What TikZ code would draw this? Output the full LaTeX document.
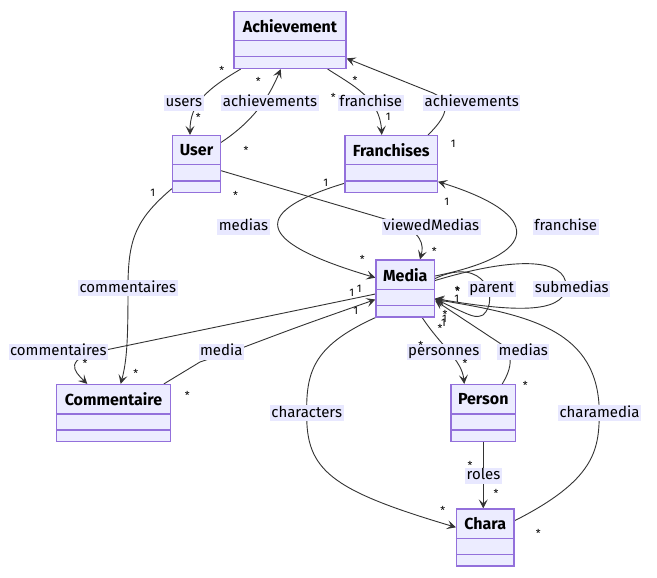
\documentclass[tikz,border=0pt]{standalone}
\usepackage{fontspec}
\setmainfont{Fira Sans}
\usetikzlibrary{arrows.meta,calc,backgrounds}
\definecolor{boxfill}{HTML}{ECECFF}
\definecolor{boxline}{HTML}{9370DB}
\definecolor{edgecol}{HTML}{333333}
\definecolor{lblfill}{HTML}{E8E8FF}
\tikzset{
  classbox/.style={draw=boxline, fill=boxfill, line width=1.2pt, inner sep=0pt, minimum height=57pt},
  classtitle/.style={font=\fontsize{16}{16}\selectfont\bfseries, text=black, inner sep=0pt},
  divider/.style={draw=boxline, line width=1.2pt},
  rel/.style={draw=edgecol, line width=0.9pt},
  relarrow/.style={rel, -{Stealth[length=9pt,width=9pt,inset=4pt]}},
  elabel/.style={fill=lblfill, inner xsep=1.5pt, inner ysep=0.8pt, font=\fontsize{15}{15}\selectfont, text=black, text height=11pt, text depth=3.5pt},
  card/.style={font=\fontsize{11}{11}\selectfont, text=black, inner sep=0pt},
  star/.style={card, yshift=-2.5pt},
}
\newcommand{\umlclass}[5]{%
  \node[classbox, minimum width=#4pt] (#1) at (#2,#3) {};
  \draw[divider] ([yshift=-30pt]#1.north west) -- ([yshift=-30pt]#1.north east);
  \draw[divider] ([yshift=-46pt]#1.north west) -- ([yshift=-46pt]#1.north east);
  \node[classtitle] (#1-title) at ([yshift=-15.5pt]#1.north) {#5};
}
\begin{document}
\begin{tikzpicture}[x=1pt,y=-1pt]
\useasboundingbox (0,0) rectangle (657,578);
% classes
\umlclass{ach}{290}{40}{112}{Achievement}
\umlclass{user}{196.5}{164}{48}{User}
\umlclass{fr}{391.25}{164}{92.5}{Franchises}
\umlclass{media}{405.25}{288.5}{58.5}{Media}
\umlclass{comm}{113.5}{413}{114}{Commentaire}
\umlclass{person}{483.25}{413}{64.5}{Person}
\umlclass{chara}{485.25}{537.5}{57.5}{Chara}
% edge labels
\node[elabel] (l-users) at (183.8,102.7) {users};
\node[elabel] (l-achu) at (270,102.7) {achievements};
\node[elabel] (l-franch) at (370.8,102.7) {franchise};
\node[elabel] (l-achf) at (471.7,102.7) {achievements};
\node[elabel] (l-medias) at (243.5,226.7) {medias};
\node[elabel] (l-viewed) at (431.3,226.7) {viewedMedias};
\node[elabel] (l-franm) at (565.8,226.7) {franchise};
\node[elabel] (l-commu) at (127.8,288.3) {commentaires};
\node[elabel] (l-parent) at (491.7,289) {parent};
\node[elabel] (l-sub) at (571.7,289) {submedias};
\node[elabel] (l-commm) at (58.3,351.7) {commentaires};
\node[elabel] (l-media) at (221.3,351.7) {media};
\node[elabel] (l-pers) at (443.7,351.7) {personnes};
\node[elabel] (l-mediasp) at (523.3,351.7) {medias};
\node[elabel] (l-chars) at (306.7,413.3) {characters};
\node[elabel] (l-charam) at (599.5,413.3) {charamedia};
\node[elabel] (l-roles) at (483.5,475.7) {roles};
% cardinalities
\node[star] (c1) at (221.7,68.3) {*};
\node[star] (c2) at (258.3,79) {*};
\node[star] (c3) at (355,78) {*};
\node[star] (c4) at (333.3,95) {*};
\node[star] (c5) at (198.3,115) {*};
\node[card] (c6) at (388.3,116.7) {1};
\node[star] (c7) at (246,147.7) {*};
\node[card] (c8) at (453.3,144) {1};
\node[card] (c9) at (325.7,183.3) {1};
\node[card] (c10) at (152.7,192.7) {1};
\node[star] (c11) at (235.5,193.3) {*};
\node[card] (c12) at (446.7,202.3) {1};
\node[star] (c13) at (434.3,249.3) {*};
\node[star] (c14) at (362.3,257.3) {*};
\node[card] (c15) at (351.7,292.7) {1};
\node[card] (c16) at (359.3,289.3) {1};
\node[card] (c17) at (355.7,310.7) {1};
\node[star] (c18) at (457.3,288.3) {*};
\node[star] (c18b) at (457.8,288.8) {*};
\node[card] (c19) at (456.7,298.7) {1};
\node[star] (c20) at (445,312) {*};
\node[card] (c21) at (444.5,318.5) {1};
\node[star] (c22) at (440,325.5) {*};
\node[card] (c23) at (443.5,323) {1};
\node[star] (c24) at (420.7,343.3) {*};
\node[star] (c25) at (465,361) {*};
\node[star] (c26) at (525.3,382.7) {*};
\node[star] (c27) at (85,361) {*};
\node[star] (c28) at (135.7,370.7) {*};
\node[star] (c29) at (187.3,392.7) {*};
\node[star] (c30) at (470,462.7) {*};
\node[star] (c31) at (496,490.7) {*};
\node[star] (c32) at (442.7,508.3) {*};
\node[star] (c33) at (538.3,530.7) {*};
% edges
\begin{scope}[on background layer]
\fill[white] (0,0) rectangle (657,578);
% users
\draw[relarrow] ([xshift=-49.3pt]ach.south) .. controls (205,90) and (190,105) .. ([xshift=-6.5pt]user.north);
% achievements (user)
\draw[relarrow] ([yshift=-7.5pt]user.north east) .. controls (255,120) and (270,95) .. ([xshift=-9.3pt]ach.south);
% franchise
\draw[relarrow] ([xshift=37.7pt]ach.south) .. controls (352,85) and (380,98) .. ([xshift=-9.5pt]fr.north);
% achievements (franchises)
\draw[relarrow] ([xshift=36.75pt]fr.north) .. controls (452,112) and (448,100) .. (433,93) -- ([yshift=-47.5pt]ach.north east);
% viewedMedias
\draw[relarrow] ([yshift=-6.7pt]user.east) -- (395,222) .. controls (422,232) and (424,245) .. ([xshift=14.75pt]media.north);
% medias (franchises -> media)
\draw[relarrow] ([yshift=-19.3pt]fr.west) .. controls (240,215) and (265,245) .. ([yshift=10.8pt]media.west);
% franchise (media -> franchises)
\draw[relarrow] ([yshift=12.5pt]media.east) .. controls (540,255) and (545,215) .. ([yshift=-17.7pt]fr.east);
% parent
\draw[relarrow] ([yshift=10pt]media.east) .. controls (485,255) and (500,300) .. (483,315) .. controls (475,318) .. ([yshift=-10.5pt]media.east);
% submedias
\draw[relarrow] ([yshift=8pt]media.east) .. controls (520,255) and (565,260) .. (566,285) .. controls (566,310) and (530,315) .. ([yshift=-10pt]media.east);
% personnes
\draw[relarrow] ([xshift=17pt]media.south) .. controls (440,345) and (462,360) .. ([xshift=-19pt]person.north);
% medias (person -> media)
\draw[relarrow] ([xshift=19pt]person.north) .. controls (512,368) and (515,352) .. (498,342) -- ([yshift=-12pt]media.east);
% characters
\draw[relarrow] (media.south west) .. controls (315,345) and (306,370) .. (306.7,413) .. controls (306,470) and (330,490) .. ([yshift=10.2pt]chara.west);
% charamedia
\draw[relarrow] ([yshift=16.8pt]chara.east) .. controls (595,480) and (599,450) .. (599.3,413) .. controls (599,330) and (530,315) .. ([yshift=-11pt]media.east);
% roles
\draw[relarrow] (person.south) -- (person.south |- chara.north);
% commentaires (media -> commentaire)
\draw[relarrow] ([yshift=-5.5pt]media.west) -- (108,349.5) .. controls (60,358) and (75,372) .. ([xshift=-26.2pt]comm.north);
% media (commentaire -> media)
\draw[relarrow] ([xshift=-7.2pt]comm.north east) -- (200,362) -- (243,347.5) .. controls (300,326) .. ([yshift=-11pt]media.west);
% commentaires (user -> commentaire)
\draw[relarrow] ([yshift=4.5pt]user.south west) .. controls (135,220) and (128,240) .. (128,288) .. controls (128,340) and (127,360) .. ([xshift=7.2pt]comm.north);
\end{scope}
\end{tikzpicture}
\end{document}
